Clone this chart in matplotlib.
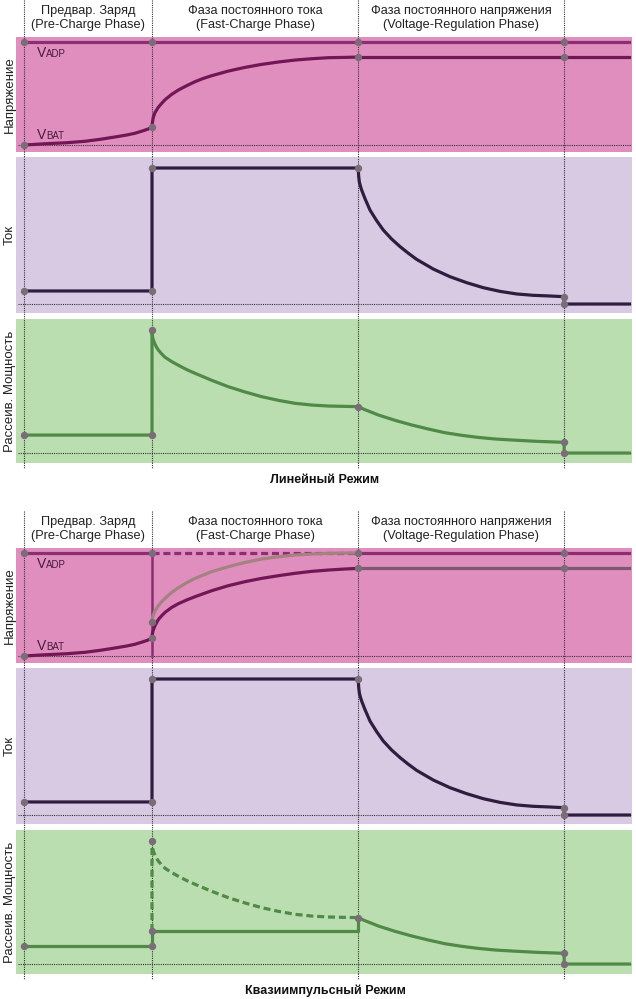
import matplotlib
matplotlib.use('Agg')
import matplotlib.pyplot as plt
from matplotlib import transforms

plt.rcParams['font.family'] = ['Liberation Sans', 'DejaVu Sans']
plt.rcParams['lines.solid_joinstyle'] = 'round'
plt.rcParams['lines.dash_joinstyle'] = 'round'

# phase boundaries (time units: pre-charge lasts 1)
phase_t = [0.0, 1.0, 2.61, 4.22]
t_end = 4.73

phase_ru = ['Предвар. Заряд', 'Фаза постоянного тока', 'Фаза постоянного напряжения']
phase_en = ['(Pre-Charge Phase)', '(Fast-Charge Phase)', '(Voltage-Regulation Phase)']
row_labels = ['Напряжение', 'Ток', 'Рассеив. Мощность']
captions = ['Линейный Режим', 'Квазиимпульсный Режим']

# voltage, VADP = 1
v_adp = 1.0
v_pre_t = [0.0, 0.164, 0.333, 0.477, 0.594, 0.711, 0.802, 0.867, 0.932, 0.969, 1.0]
v_pre = [0.0, 0.012, 0.022, 0.036, 0.055, 0.078, 0.097, 0.114, 0.139, 0.155, 0.175]
v_fast_t = [1.0, 1.003, 1.010, 1.023, 1.049, 1.076, 1.102, 1.154, 1.206, 1.271, 1.336,
            1.401, 1.466, 1.596, 1.727, 1.857, 1.987, 2.117, 2.247, 2.378, 2.508, 2.61]
v_fast = [0.175, 0.217, 0.269, 0.314, 0.366, 0.405, 0.440, 0.492, 0.534, 0.576, 0.615,
          0.647, 0.673, 0.718, 0.754, 0.783, 0.806, 0.825, 0.838, 0.848, 0.851, 0.854]
v_reg = 0.854

# quasi-pulse mode voltage
qv_fast_t = [1.0, 1.003, 1.010, 1.023, 1.049, 1.076, 1.102, 1.154, 1.206, 1.271, 1.336,
             1.466, 1.596, 1.727, 1.857, 1.987, 2.117, 2.247, 2.378, 2.508, 2.61]
qv_fast = [0.175, 0.217, 0.252, 0.294, 0.353, 0.392, 0.424, 0.472, 0.508, 0.544, 0.576,
           0.634, 0.683, 0.722, 0.754, 0.780, 0.803, 0.822, 0.835, 0.845, 0.851]
qv_sw_t = [1.0, 1.003, 1.010, 1.023, 1.049, 1.076, 1.102, 1.154, 1.206, 1.271, 1.336,
           1.466, 1.596, 1.727, 1.857, 1.987, 2.117, 2.247, 2.378, 2.534]
qv_sw = [0.327, 0.366, 0.398, 0.437, 0.489, 0.528, 0.560, 0.618, 0.663, 0.712, 0.754,
         0.819, 0.867, 0.909, 0.942, 0.964, 0.981, 0.990, 0.997, 1.0]

# current
i_pre = 0.096
i_fast = 1.0
i_reg_t = [2.61, 2.612, 2.615, 2.620, 2.628, 2.638, 2.664, 2.703, 2.755, 2.807, 2.872, 2.938,
           3.003, 3.068, 3.198, 3.328, 3.458, 3.589, 3.719, 3.849, 3.979, 4.109, 4.22]
i_reg = [1.0, 0.980, 0.936, 0.897, 0.868, 0.838, 0.775, 0.691, 0.613, 0.544, 0.478, 0.422,
         0.373, 0.328, 0.257, 0.201, 0.157, 0.120, 0.093, 0.074, 0.064, 0.059, 0.054]
i_done = 0.0

# dissipated power
p_pre = 0.146
p_fast_t = [1.0, 1.005, 1.010, 1.023, 1.036, 1.049, 1.076, 1.102, 1.154, 1.206, 1.271, 1.336,
            1.466, 1.596, 1.727, 1.857, 1.987, 2.117, 2.247, 2.378, 2.508, 2.61]
p_fast = [1.0, 0.940, 0.919, 0.886, 0.859, 0.837, 0.805, 0.778, 0.743, 0.713, 0.678, 0.648,
          0.591, 0.539, 0.496, 0.458, 0.428, 0.404, 0.390, 0.382, 0.379, 0.377]
p_reg_t = [2.61, 2.664, 2.716, 2.768, 2.898, 3.029, 3.159, 3.289, 3.419, 3.549, 3.680,
           3.810, 4.005, 4.22]
p_reg = [0.377, 0.352, 0.331, 0.309, 0.266, 0.228, 0.195, 0.165, 0.144, 0.127, 0.114,
         0.106, 0.095, 0.087]
qp_fast = 0.268
p_done = 0.0

PINK, LAV, GREEN = '#e08ebe', '#d9cae4', '#bbdeb0'
C_ADP, C_BAT, C_SW, C_REGQ = '#8c2f72', '#721656', '#a3827f', '#7d5a70'
C_I, C_P, C_DOT = '#2f1d3f', '#4f8a47', '#7a6d78'
GRID = dict(color='#333333', lw=0.8, ls=(0, (1, 1)))
LW = 2.3

W, H = 636, 999
PX = 128.0      # pixels per time unit
X0 = 24         # pixel of t = 0

fig = plt.figure(figsize=(W / 100, H / 100), dpi=100)
bg = fig.add_axes([0, 0, 1, 1])
bg.set_xlim(-X0 / PX, (W - X0) / PX)
bg.set_ylim(H, 0)
bg.axis('off')


def panel(top, bottom, ylim, color, label):
    ax = fig.add_axes([16 / W, 1 - bottom / H, 616 / W, (bottom - top) / H])
    ax.set_xlim((16 - X0) / PX, (632 - X0) / PX)
    ax.set_ylim(*ylim)
    ax.set_facecolor(color)
    for s in ax.spines.values():
        s.set_visible(False)
    ax.set_xticks([])
    ax.set_yticks([])
    for t in phase_t:
        ax.axvline(t, zorder=1, **GRID)
    ax.axhline(0, xmin=2 / 616, zorder=1, **GRID)
    ax.text(-6 / 616, 0.5, label, transform=ax.transAxes, rotation=90,
            ha='center', va='center', fontsize=9.5, color='#222222')
    return ax


def dots(ax, xs, ys):
    ax.plot(xs, ys, 'o', ms=4.3, color=C_DOT, zorder=6, clip_on=False)


def vlabel(ax, x, y, sub):
    ax.text(x, y, 'V', fontsize=10, color='#4a1a40', va='baseline')
    off = transforms.offset_copy(ax.transData, fig=fig, x=6.6, y=0, units='points')
    ax.text(x, y, sub, fontsize=7, color='#4a1a40', va='baseline', transform=off)


def block(dy, quasi):
    # headers and phase lines
    for k in range(3):
        xc = (phase_t[k] + phase_t[k + 1]) / 2
        bg.text(xc, 11 + dy, phase_ru[k], ha='center', va='center', fontsize=9.2, color='#222222')
        bg.text(xc, 25 + dy, phase_en[k], ha='center', va='center', fontsize=9.2, color='#222222')
    for t in phase_t:
        bg.plot([t, t], [dy, 468 + dy], zorder=1, **GRID)
    bg.text((325 - X0) / PX, 480 + dy, captions[1 if quasi else 0], ha='center', va='center',
            fontsize=9, fontweight='bold', color='#111111')

    # voltage
    av = panel(37 + dy, 152 + dy, (-0.068, 1.049), PINK, row_labels[0])
    av.plot(v_pre_t, v_pre, color=C_BAT, lw=LW, zorder=4)
    if quasi:
        av.plot([phase_t[0], phase_t[1]], [v_adp, v_adp], color=C_ADP, lw=LW, zorder=4)
        av.plot([phase_t[1], phase_t[2]], [v_adp, v_adp], color=C_ADP, lw=LW,
                ls=(0, (2.2, 1.2)), zorder=4)
        av.plot([phase_t[2], t_end], [v_adp, v_adp], color=C_ADP, lw=LW, zorder=4)
        av.plot([phase_t[1], phase_t[1]], [0, v_adp], color=C_ADP, lw=1.8, zorder=3)
        av.plot(qv_sw_t + [phase_t[2]], qv_sw + [v_adp], color=C_SW, lw=LW, zorder=4)
        av.plot(qv_fast_t, qv_fast, color=C_BAT, lw=LW, zorder=4)
        av.plot([phase_t[2], t_end], [qv_fast[-1], qv_fast[-1]], color=C_REGQ, lw=LW, zorder=4)
        dots(av, [phase_t[0], phase_t[0], phase_t[1], phase_t[1], phase_t[1], phase_t[2], phase_t[3],
                  phase_t[2], phase_t[3]],
             [0, v_adp, v_adp, qv_sw[0], qv_fast[0], v_adp, v_adp, qv_fast[-1], qv_fast[-1]])
    else:
        av.plot([phase_t[0], t_end], [v_adp, v_adp], color=C_ADP, lw=LW, zorder=4)
        av.plot(v_fast_t, v_fast, color=C_BAT, lw=LW, zorder=4)
        av.plot([phase_t[2], t_end], [v_reg, v_reg], color=C_BAT, lw=LW, zorder=4)
        dots(av, [phase_t[0], phase_t[0], phase_t[1], phase_t[2], phase_t[3], phase_t[1],
                  phase_t[2], phase_t[3]],
             [0, v_adp, v_adp, v_adp, v_adp, v_pre[-1], v_reg, v_reg])
    vlabel(av, 0.1, 0.855, 'ADP')
    vlabel(av, 0.1, 0.06, 'BAT')

    # current
    ai = panel(157 + dy, 313 + dy, (-0.066, 1.081), LAV, row_labels[1])
    ai.plot([phase_t[0], phase_t[1], phase_t[1], phase_t[2]] + i_reg_t + [phase_t[3], t_end],
            [i_pre, i_pre, i_fast, i_fast] + i_reg + [i_done, i_done],
            color=C_I, lw=LW, zorder=4)
    dots(ai, [phase_t[0], phase_t[1], phase_t[1], phase_t[2], phase_t[3], phase_t[3]],
         [i_pre, i_pre, i_fast, i_fast, i_reg[-1], i_done])

    # power
    ap = panel(319 + dy, 463 + dy, (-0.081, 1.089), GREEN, row_labels[2])
    if quasi:
        ap.plot([phase_t[0], phase_t[1], phase_t[1], phase_t[2], phase_t[2]],
                [p_pre, p_pre, qp_fast, qp_fast, p_reg[0]], color=C_P, lw=LW, zorder=4)
        ap.plot([phase_t[1], phase_t[1]] + p_fast_t, [qp_fast, p_fast[0]] + p_fast,
                color=C_P, lw=LW, ls=(0, (2.2, 1.2)), zorder=4)
        dots(ap, [phase_t[0], phase_t[1], phase_t[1], phase_t[1], phase_t[2], phase_t[3], phase_t[3]],
             [p_pre, p_pre, qp_fast, p_fast[0], p_reg[0], p_reg[-1], p_done])
    else:
        ap.plot([phase_t[0], phase_t[1]] + p_fast_t, [p_pre, p_pre] + p_fast,
                color=C_P, lw=LW, zorder=4)
        dots(ap, [phase_t[0], phase_t[1], phase_t[1], phase_t[2], phase_t[3], phase_t[3]],
             [p_pre, p_pre, p_fast[0], p_fast[-1], p_reg[-1], p_done])
    ap.plot(p_reg_t + [phase_t[3], t_end], p_reg + [p_done, p_done], color=C_P, lw=LW, zorder=4)


block(0, False)
block(511, True)

fig.savefig('out.png', dpi=100)
